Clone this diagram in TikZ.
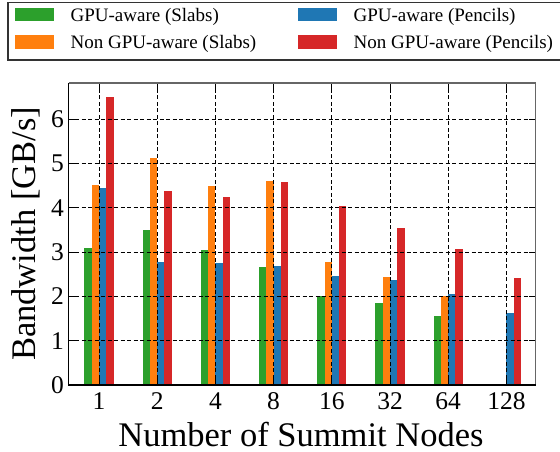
\documentclass[tikz,border=0pt]{standalone}
\usepackage{fontspec}
\setmainfont{Liberation Serif}
\usepackage{xcolor}
\usepackage{tikz}
\usetikzlibrary{positioning, calc}
\definecolor{tabgreen}{HTML}{2CA02C}
\definecolor{taborange}{HTML}{FF7F0E}
\definecolor{tabblue}{HTML}{1F77B4}
\definecolor{tabred}{HTML}{D62728}
\tikzset{
  gridline/.style={black, dash pattern=on 4pt off 2.5pt, line width=0.9pt},
  tickmark/.style={black, line width=0.9pt},
  ticklabel/.style={font=\fontsize{25.5}{27}\selectfont, inner sep=0pt},
  axlabel/.style={font=\fontsize{34.5}{36}\selectfont, inner sep=0pt},
  legtext/.style={font=\fontsize{19}{21}\selectfont, inner sep=0pt},
  swatch/.style={minimum width=39pt, minimum height=13.4pt, inner sep=0pt, anchor=south west},
}

\begin{document}
\begin{tikzpicture}[x=1pt, y=-1pt]
  \useasboundingbox (0,0) rectangle (560,452);

  % Legend
  \draw[line width=1.7pt, draw=black!80] (8.3,2.5) rectangle (563,60);
  \node[swatch, fill=tabgreen] (swgs) at (15,21.7) {};
  \node[swatch, fill=taborange] (swns) at (15,49) {};
  \node[swatch, fill=tabblue] (swgp) at (298,21.7) {};
  \node[swatch, fill=tabred] (swnp) at (298,49) {};
  \node[legtext, right=16pt of swgs.south east, anchor=base west] (lgs) {GPU-aware (Slabs)};
  \node[legtext, right=16pt of swns.south east, anchor=base west] (lns) {Non GPU-aware (Slabs)};
  \node[legtext, right=16pt of swgp.south east, anchor=base west] (lgp) {GPU-aware (Pencils)};
  \node[legtext, right=16pt of swnp.south east, anchor=base west] (lnp) {Non GPU-aware (Pencils)};

  % Plot area (data coordinates)
  \begin{scope}[shift={(99,385)}, x=58.2pt, y=44.28pt]
    % Bars
    \foreach \v [count=\i from 0] in {3.09,3.50,3.05,2.66,2.00,1.85,1.56}
      \fill[tabgreen] (\i-0.25,0) rectangle (\i-0.125,\v);
    \foreach \v [count=\i from 0] in {4.52,5.13,4.49,4.61,2.78,2.44,2.01}
      \fill[taborange] (\i-0.125,0) rectangle (\i,\v);
    \foreach \v [count=\i from 0] in {4.46,2.78,2.76,2.69,2.46,2.37,2.06,1.63}
      \fill[tabblue] (\i,0) rectangle (\i+0.125,\v);
    \foreach \v [count=\i from 0] in {6.51,4.38,4.25,4.58,4.04,3.55,3.07,2.42}
      \fill[tabred] (\i+0.125,0) rectangle (\i+0.25,\v);

    % Grid
    \foreach \k in {1,...,6}
      \draw[gridline] (-0.52,\k) -- (7.5,\k);
    \foreach \i in {0,...,7}
      \draw[gridline] (\i,0) -- (\i,6.82);

    % Ticks (inward, all sides)
    \foreach \k in {0,...,6} {
      \draw[tickmark] (-0.52,\k) -- ++(0.11,0);
      \draw[tickmark] (7.5,\k) -- ++(-0.11,0);
    }
    \foreach \i in {0,...,7} {
      \draw[tickmark] (\i,0) -- ++(0,0.14);
      \draw[tickmark] (\i,6.82) -- ++(0,-0.14);
    }

    % Frame
    \draw[black!60, line width=1.2pt] (-0.52,6.82) -- (7.5,6.82) -- (7.5,0);
    \draw[black, line width=1.2pt] (-0.52,6.82) -- (-0.52,0) -- (7.5,0);

    % Tick labels
    \foreach \k in {0,...,6}
      \node[ticklabel, anchor=east] (yt\k) at (-0.6,\k) {\k};
    \foreach \n [count=\i from 0] in {1,2,4,8,16,32,64,128}
      \node[ticklabel, anchor=base] (xt\i) at (\i,-0.553) {\n};

    % Axis labels
    \node[axlabel, anchor=base] (xlab) at (3.47,-1.378) {Number of Summit Nodes};
    \node[axlabel, anchor=base, rotate=90] (ylab) at (-1.083,3.41) {Bandwidth [GB/s]};
  \end{scope}
\end{tikzpicture}
\end{document}
